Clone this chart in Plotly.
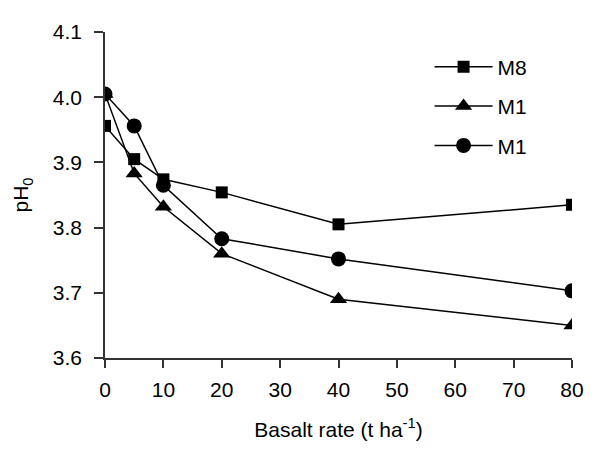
import plotly.graph_objects as go

basalt_rate = [0, 5, 10, 20, 40, 80]
m8_square = [3.956, 3.905, 3.874, 3.854, 3.805, 3.835]
m1_triangle = [4.005, 3.883, 3.832, 3.760, 3.690, 3.650]
m1_circle = [4.005, 3.956, 3.865, 3.783, 3.752, 3.703]

series_names = ["M8", "M1", "M1"]
x_ticks = [0, 10, 20, 30, 40, 50, 60, 70, 80]
y_ticks = [3.6, 3.7, 3.8, 3.9, 4.0, 4.1]

FONT = "Liberation Sans, Arial, sans-serif"

fig = go.Figure()
styles = [("square", 12), ("triangle-up", 15), ("circle", 15)]
for i, (vals, name, (sym, sz)) in enumerate(zip([m8_square, m1_triangle, m1_circle], series_names, styles)):
    fig.add_trace(go.Scatter(
        x=basalt_rate, y=vals, name=name, mode="lines+markers",
        line=dict(color="black", width=1.5),
        marker=dict(symbol=sym, size=sz, color="black"),
        legendgroup=f"g{i}",
    ))

fig.update_layout(
    width=588, height=442,
    margin=dict(l=94, r=14, t=13, b=81),
    paper_bgcolor="white", plot_bgcolor="white",
    font=dict(family=FONT, size=21, color="black"),
    legend=dict(x=0.695, y=0.955, xanchor="left", yanchor="top", itemwidth=58,
                font=dict(size=21), tracegroupgap=9, bgcolor="rgba(0,0,0,0)"),
    xaxis=dict(range=[0, 80], tickvals=x_ticks, ticks="outside", ticklen=8,
               tickwidth=1.5, tickcolor="#333", showline=True, linecolor="#333",
               linewidth=1.5, showgrid=False, zeroline=False, ticklabelstandoff=4,
               title=dict(text="Basalt rate (t ha<sup>-1</sup>)", font=dict(size=21), standoff=22)),
    yaxis=dict(range=[3.6, 4.1], tickvals=y_ticks, tickformat=".1f", ticks="outside",
               ticklen=9, tickwidth=1.5, tickcolor="#333", showline=True,
               linecolor="#333", linewidth=1.5, showgrid=False, zeroline=False,
               ticklabelstandoff=8,
               title=dict(text="pH<sub>0</sub>", font=dict(size=21), standoff=18)),
)

fig.write_html("out.html")
